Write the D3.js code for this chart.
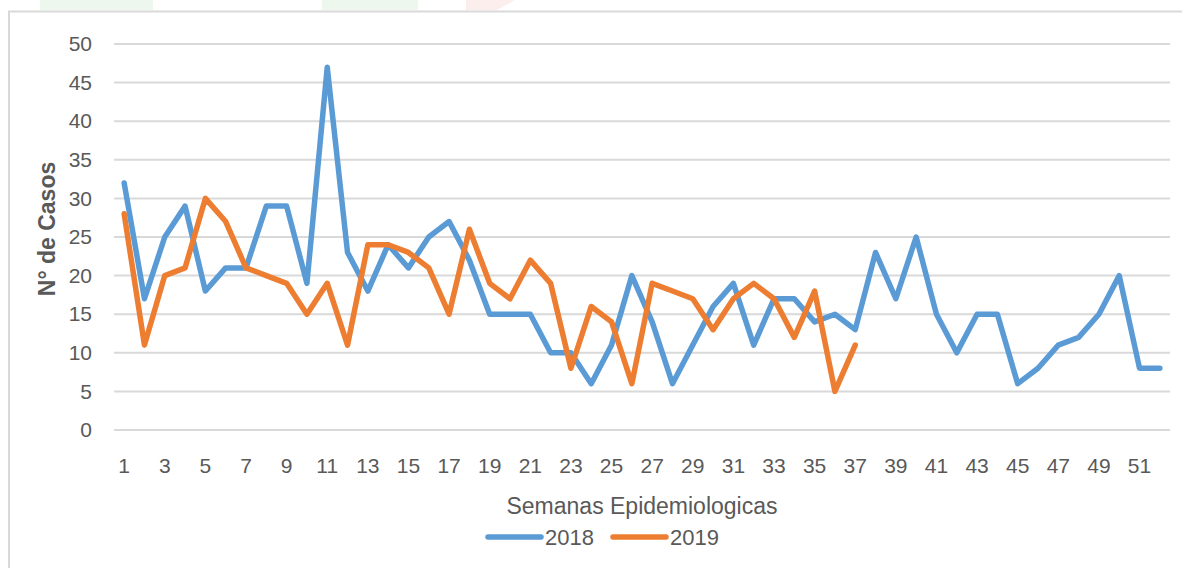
<!DOCTYPE html>
<html>
<head>
<meta charset="utf-8">
<script src="https://cdn.jsdelivr.net/npm/d3@7"></script>
<style>
  body { margin: 0; background: #fff; }
  svg { display: block; font-family: 'Liberation Sans', Arial, sans-serif; }
</style>
</head>
<body>
<div id="chart"></div>
<script>
const weeks = d3.range(1, 53);
const cases2018 = [32, 17, 25, 29, 18, 21, 21, 29, 29, 19, 47, 23, 18, 24, 21, 25, 27, 22, 15, 15,
  15, 10, 10, 6, 11, 20, 14, 6, 11, 16, 19, 11, 17, 17, 14, 15, 13, 23, 17, 25,
  15, 10, 15, 15, 6, 8, 11, 12, 15, 20, 8, 8];
const cases2019 = [28, 11, 20, 21, 30, 27, 21, 20, 19, 15, 19, 11, 24, 24, 23, 21, 15, 26, 19, 17,
  22, 19, 8, 16, 14, 6, 19, 18, 17, 13, 17, 19, 17, 12, 18, 5, 11];
const yTicks = [0, 5, 10, 15, 20, 25, 30, 35, 40, 45, 50];
const seriesNames = ['2018', '2019'];
const seriesColors = ['#5B9BD5', '#ED7D31'];

const width = 1182;
const height = 568;
const plot = { left: 114, right: 1170, top: 44, bottom: 430 };
const textColor = '#595959';

const svg = d3.select('#chart').append('svg')
  .attr('width', width)
  .attr('height', height);

// faint logo remnants peeking in at the top edge
const drawLogoBits = () => {
  svg.append('rect').attr('x', 40).attr('y', 0).attr('width', 113).attr('height', 10).attr('fill', '#eef7ee');
  svg.append('rect').attr('x', 322).attr('y', 0).attr('width', 96).attr('height', 10).attr('fill', '#eef7ee');
  svg.append('path').attr('d', 'M466,0 L515,0 L497,10 L466,10 Z').attr('fill', '#fdeeee');
}

const drawFrame = () => {
  svg.append('path')
    .attr('d', 'M9,' + height + ' L9,11.5 L' + width + ',11.5')
    .attr('fill', 'none')
    .attr('stroke', '#d9d9d9')
    .attr('stroke-width', 2);
}

const x = d3.scaleBand()
  .domain(weeks)
  .range([plot.left, plot.right])
  .padding(0);

const y = d3.scaleLinear()
  .domain([0, 50])
  .range([plot.bottom, plot.top]);

const drawGrid = () => {
  svg.append('g')
    .selectAll('line')
    .data(yTicks)
    .join('line')
    .attr('x1', plot.left)
    .attr('x2', plot.right)
    .attr('y1', (d) => y(d))
    .attr('y2', (d) => y(d))
    .attr('stroke', '#d9d9d9')
    .attr('stroke-width', 2);
}

const styleTicks = (axis) => {
  axis.select('.domain').remove();
  axis.selectAll('text')
    .attr('fill', textColor)
    .style('font-size', '21px')
    .style('font-family', "'Liberation Sans', Arial, sans-serif");
}

const drawAxes = () => {
  const yAxis = svg.append('g')
    .attr('transform', 'translate(' + (plot.left - 22) + ',0)')
    .call(d3.axisLeft(y).tickValues(yTicks).tickSize(0).tickPadding(0));
  styleTicks(yAxis);

  const xAxis = svg.append('g')
    .attr('transform', 'translate(0,' + (plot.bottom + 28) + ')')
    .call(d3.axisBottom(x).tickValues(weeks.filter((w) => w % 2 === 1)).tickSize(0).tickPadding(0));
  styleTicks(xAxis);

  svg.append('text')
    .attr('x', 642)
    .attr('y', 514)
    .attr('text-anchor', 'middle')
    .attr('fill', textColor)
    .style('font-size', '23px')
    .text('Semanas Epidemiologicas');

  svg.append('text')
    .attr('transform', 'translate(55,229) rotate(-90)')
    .attr('text-anchor', 'middle')
    .attr('fill', textColor)
    .style('font-size', '23px')
    .style('font-weight', 'bold')
    .text('N° de Casos');
}

const drawLines = () => {
  const line = d3.line()
    .x((d, i) => x(weeks[i]) + x.bandwidth() / 2)
    .y((d) => y(d));
  [cases2018, cases2019].forEach((values, i) => {
    svg.append('path')
      .datum(values)
      .attr('fill', 'none')
      .attr('stroke', seriesColors[i])
      .attr('stroke-width', 5.5)
      .attr('stroke-linejoin', 'round')
      .attr('stroke-linecap', 'round')
      .attr('d', line);
  });
}

const drawLegend = () => {
  const items = [{ x: 488, name: seriesNames[0], color: seriesColors[0] },
    { x: 613, name: seriesNames[1], color: seriesColors[1] }];
  const legend = svg.append('g').selectAll('g')
    .data(items)
    .join('g')
    .attr('transform', (d) => 'translate(' + d.x + ',537)');
  legend.append('line')
    .attr('x1', 0).attr('x2', 53)
    .attr('stroke', (d) => d.color)
    .attr('stroke-width', 5.5)
    .attr('stroke-linecap', 'round');
  legend.append('text')
    .attr('x', 57)
    .attr('y', 8)
    .attr('fill', textColor)
    .style('font-size', '22px')
    .text((d) => d.name);
}

drawLogoBits();
drawFrame();
drawGrid();
drawAxes();
drawLines();
drawLegend();
</script>
</body>
</html>
